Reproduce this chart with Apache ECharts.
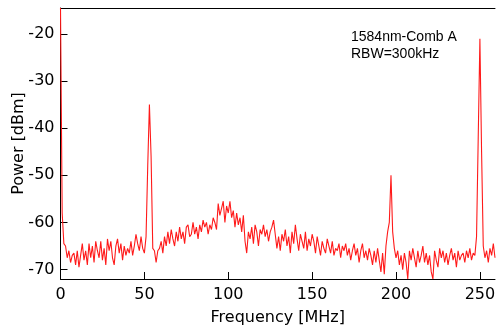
<!DOCTYPE html>
<html>
<head>
<meta charset="utf-8">
<script src="https://cdn.jsdelivr.net/npm/echarts@6/dist/echarts.min.js"></script>
<style>html,body{margin:0;padding:0;background:#fff;}#c{width:499px;height:328px;}</style>
</head>
<body>
<div id="c"></div>
<script>
// Frequency step (MHz) starts at 0, one value per MHz
var freqStart = 0;
var freqStep = 1;
var power = [
  -14.5, -58, -64.5, -65, -67.5, -66, -68.5, -67, -66.5, -69,
  -66, -69.5, -67, -64.5, -68, -66, -69, -64.5, -67.5, -65,
  -68.5, -64, -66, -67.5, -64, -68, -65.5, -69, -63.5, -66,
  -64, -67.5, -69, -65, -63.5, -66.5, -64.5, -68, -65, -67,
  -65.5, -66.5, -64, -67, -65, -62.5, -64.5, -66, -63, -65.5,
  -66.5, -63, -48, -35, -46, -65.5, -66, -68.5, -66, -65.5,
  -64, -66.5, -63, -65, -62, -64.5, -61.5, -63.5, -65, -62,
  -64, -61, -63.5, -62, -64.5, -61, -60.5, -63, -62.5, -60,
  -62.5, -61, -63.5, -60.5, -62, -59.5, -61, -60, -62.5, -60.5,
  -61.5, -59, -60, -61.5, -56, -58.5, -57, -55.5, -60, -56.5,
  -58, -55.5, -59, -57.5, -61, -58, -60.5, -59, -62, -58.5,
  -64, -66.5, -62, -63.5, -61, -64.5, -60.5, -62, -65, -61.5,
  -62.5, -60.5, -63, -61.5, -64, -62, -61, -59.5, -62.5, -65.5,
  -63, -66, -62.5, -64, -61.5, -65, -63, -66.5, -62, -64.5,
  -60.5, -63.5, -66, -62.5, -64, -65.5, -62, -66, -63.5, -65,
  -62.5, -64, -66.5, -63, -65, -67, -64, -65.5, -66.5, -63.5,
  -65, -66.5, -64, -67, -65.5, -66, -64.5, -67.5, -65, -66,
  -64.5, -67, -65.5, -68, -66, -64.5, -67, -65.5, -68.5, -66,
  -64.5, -67.5, -66, -68, -65.5, -67, -69, -66, -68.5, -65.5,
  -68, -70.5, -66.5, -71, -65, -62, -60, -50, -62, -65.5,
  -67.5, -66, -69, -67, -70, -66.5, -68.5, -72, -66, -68,
  -65.5, -67.5, -69.5, -66, -68.5, -67, -65, -68.5, -66.5, -69,
  -67, -70.5, -72, -66, -68, -69.5, -65.5, -67.5, -66, -68.5,
  -66.5, -69, -67, -65.5, -68, -66.5, -69.5, -66, -68, -67,
  -66.5, -68.5, -66, -67.5, -65.5, -68, -66.5, -67, -63, -42,
  -21, -45, -65, -67.5, -66, -68.5, -65.5, -67, -64.5, -67.5
];
var xTicks = [0, 50, 100, 150, 200, 250];
var yTicks = [-70, -60, -50, -40, -30, -20];
var annotation = ['1584nm-Comb A', 'RBW=300kHz'];

var data = power.map(function (v, i) { return [freqStart + i * freqStep, v]; });

var chart = echarts.init(document.getElementById('c'), null, {renderer: 'canvas'});
var axisFont = {fontFamily: 'DejaVu Sans', fontSize: 16, color: '#000'};
chart.setOption({
  animation: false,
  backgroundColor: '#fff',
  title: {
    text: annotation.join('\n'),
    left: 346, top: 24,
    textStyle: {fontFamily: 'Liberation Sans', fontSize: 14, fontWeight: 'normal', color: '#000', lineHeight: 17}
  },
  grid: {left: 60.5, right: 4, top: 8, bottom: 49, containLabel: false, outerBoundsMode: 'none'},
  xAxis: [{
    type: 'value', min: 0, max: 259,
    name: 'Frequency [MHz]', nameLocation: 'middle', nameGap: 31, nameMoveOverlap: false,
    nameTextStyle: axisFont,
    axisLine: {show: true, lineStyle: {color: '#000', width: 1}},
    axisTick: {show: true, inside: true, length: 7, customValues: xTicks, lineStyle: {color: '#000'}},
    axisLabel: {customValues: xTicks, margin: 8, fontFamily: 'DejaVu Sans', fontSize: 16, color: '#000'},
    splitLine: {show: false}
  }, {
    type: 'value', min: 0, max: 259, position: 'top',
    axisLine: {show: true, onZero: false, lineStyle: {color: '#000', width: 1}},
    axisTick: {show: false}, axisLabel: {show: false}, splitLine: {show: false}
  }],
  yAxis: {
    type: 'value', min: -72, max: -14.5,
    name: 'Power [dBm]', nameLocation: 'middle', nameGap: 34, nameMoveOverlap: false,
    nameTextStyle: axisFont,
    axisLine: {show: true, onZero: false, lineStyle: {color: '#000', width: 1}},
    axisTick: {show: true, inside: true, length: 7, customValues: yTicks, lineStyle: {color: '#000'}},
    axisLabel: {customValues: yTicks, margin: 6, fontFamily: 'DejaVu Sans', fontSize: 16, color: '#000'},
    splitLine: {show: false}
  },
  series: [{
    type: 'line', data: data, xAxisIndex: 0, showSymbol: false, symbol: 'none',
    lineStyle: {color: '#ff1a1a', width: 1.1}, clip: true
  }]
});
</script>
</body>
</html>
